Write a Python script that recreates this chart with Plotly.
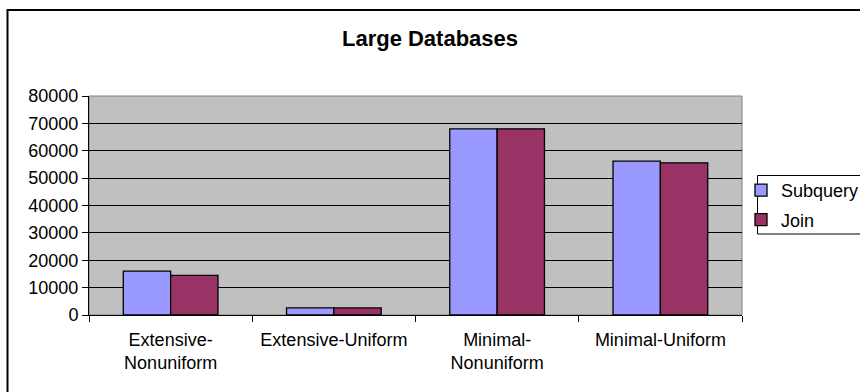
import plotly.graph_objects as go

# Query timings for large databases
categories = ["Extensive-<br>Nonuniform", "Extensive-Uniform", "Minimal-<br>Nonuniform", "Minimal-Uniform"]
subquery = [16000, 2600, 68000, 56200]
join = [14500, 2600, 68000, 55600]
y_ticks = [0, 10000, 20000, 30000, 40000, 50000, 60000, 70000, 80000]

W, H = 860, 392
L, R, T, B = 89, 742, 96, 315  # plot area edges in pixels
pw, ph = R - L, B - T


def px_x(x):
    return (x - L) / pw


def px_y(y):
    return (B - y) / ph


FONT = "Arial, Liberation Sans, sans-serif"

fig = go.Figure()
fig.add_trace(go.Bar(name="Subquery", x=categories, y=subquery, legendgroup="s",
                     marker=dict(color="#9999FF", line=dict(color="black", width=1.3))))
fig.add_trace(go.Bar(name="Join", x=categories, y=join, legendgroup="j",
                     marker=dict(color="#993366", line=dict(color="black", width=1.3))))

fig.update_layout(
    width=W, height=H,
    margin=dict(l=L, r=W - R, t=T, b=H - B, pad=0, autoexpand=False),
    paper_bgcolor="white",
    plot_bgcolor="#C0C0C0",
    barmode="group",
    bargap=0.42,
    bargroupgap=0,
    font=dict(family=FONT, size=18, color="black"),
    title=dict(text="<b>Large Databases</b>", x=0.5, xanchor="center",
               y=1 - 38 / H, yanchor="middle", yref="container",
               font=dict(family=FONT, size=22, color="black")),
    showlegend=True,
    legend=dict(x=px_x(741), y=px_y(172), xanchor="left", yanchor="top",
                borderwidth=0, bgcolor="rgba(0,0,0,0)",
                font=dict(family=FONT, size=18, color="black"),
                itemwidth=30, traceorder="grouped", tracegroupgap=3),
    xaxis=dict(showline=True, linecolor="black", linewidth=1,
               ticks="outside", tickson="boundaries", ticklen=6,
               tickcolor="black", showgrid=False, ticklabelstandoff=8,
               tickfont=dict(family=FONT, size=18, color="black")),
    yaxis=dict(range=[0, 80000], tickvals=y_ticks, ticktext=[str(v) for v in y_ticks],
               showline=True, linecolor="black", linewidth=1,
               ticks="outside", ticklen=6, tickcolor="black",
               showgrid=True, gridcolor="black", gridwidth=1,
               zeroline=False,
               tickfont=dict(family=FONT, size=18, color="black")),
    shapes=[
        # plot area frame (gray on top and right)
        dict(type="rect", xref="paper", yref="paper", x0=0, y0=0, x1=1, y1=1,
             line=dict(color="#808080", width=1), layer="below"),
        # legend frame
        dict(type="rect", xref="paper", yref="paper",
             x0=px_x(757.5), y0=px_y(234), x1=px_x(W + 20), y1=px_y(175.5),
             line=dict(color="black", width=1)),
        # outer chart frame
        dict(type="rect", xref="paper", yref="paper",
             x0=px_x(7.5), y0=px_y(H + 20), x1=px_x(W + 20), y1=px_y(10),
             line=dict(color="black", width=2)),
    ],
)

fig.write_html("out.html")
